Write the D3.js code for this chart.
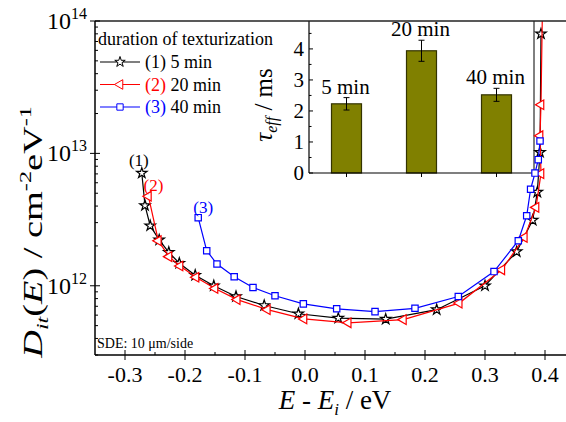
<!DOCTYPE html>
<html>
<head>
<meta charset="utf-8">
<script src="https://cdn.jsdelivr.net/npm/d3@7"></script>
<style>
  body { margin: 0; background: #fff; }
</style>
</head>
<body>
<svg id="chart" width="566" height="422" font-family="'Liberation Serif', 'DejaVu Serif', serif"></svg>
<script>
// --- data ---
// (1) 5 min
const energy5 = [-0.272, -0.2667, -0.258, -0.243, -0.227, -0.2095, -0.183, -0.152, -0.115, -0.068, -0.011, 0.0555, 0.1345, 0.2195, 0.300, 0.3528, 0.3795, 0.3872, 0.3917, 0.3933];
const dit5 = [7.1e12, 4.04e12, 2.84e12, 2.22e12, 1.79e12, 1.48e12, 1.20e12, 1.0e12, 8.3e11, 7.1e11, 6.15e11, 5.7e11, 5.6e11, 6.6e11, 1.0e12, 1.81e12, 3.13e12, 5.1e12, 1.02e13, 8.0e13];
// (2) 20 min
const energy20 = [-0.261, -0.2445, -0.2267, -0.2083, -0.1817, -0.15, -0.113, -0.0628, -0.0017, 0.072, 0.164, 0.257, 0.328, 0.3655, 0.385, 0.3933, 0.3917, 0.3933, 0.396];
const dit20 = [4.75e12, 2.19e12, 1.66e12, 1.41e12, 1.16e12, 9.55e11, 7.86e11, 6.6e11, 5.62e11, 5.25e11, 5.55e11, 7.4e11, 1.32e12, 2.32e12, 3.91e12, 7.03e12, 1.36e13, 2.33e13, 1.5e14];
// (3) 40 min
const energy40 = [-0.178, -0.1638, -0.1467, -0.118, -0.0867, -0.05, -0.0028, 0.0528, 0.1167, 0.1833, 0.2555, 0.315, 0.3555, 0.3695, 0.376, 0.3833, 0.3888, 0.3917];
const dit40 = [3.27e12, 1.84e12, 1.46e12, 1.17e12, 9.7e11, 8.4e11, 7.3e11, 6.7e11, 6.38e11, 6.76e11, 8.3e11, 1.28e12, 2.19e12, 3.38e12, 5.36e12, 7.1e12, 8.97e12, 1.24e13];

// inset: effective lifetime
const durations = ["5 min", "20 min", "40 min"];
const tauEff = [2.23, 3.94, 2.52];
const tauErr = [0.2, 0.34, 0.21];

const xTicks = [-0.3, -0.2, -0.1, 0.0, 0.1, 0.2, 0.3, 0.4];
const xTickLabels = ["-0.3", "-0.2", "-0.1", "0.0", "0.1", "0.2", "0.3", "0.4"];
const yTicks = [1e12, 1e13, 1e14];
const yTickExp = ["12", "13", "14"];
const insetTicks = [0, 1, 2, 3, 4];

const svg = d3.select("#chart");

const pLeft = 95, pTop = 21, pBottom = 355, pRight = 575;
const x = d3.scaleLinear().domain([-0.35, 0.45]).range([pLeft, pRight]);
const y = d3.scaleLog().domain([3e11, 1e14]).range([pBottom, pTop]);

svg.append("clipPath").attr("id", "plotclip")
  .append("rect").attr("x", pLeft).attr("y", pTop).attr("width", pRight - pLeft).attr("height", pBottom - pTop);

// --- inset ---
const inset = svg.append("g");
const ix = d3.scaleBand().domain(durations).range([309, 534]).paddingInner(0.6).paddingOuter(0.3);
const iy = d3.scaleLinear().domain([0, 4.9]).range([173, pTop]);

inset.append("rect").attr("x", 309).attr("y", pTop).attr("width", 225).attr("height", 173 - pTop)
  .attr("fill", "#fff");

inset.selectAll(".bar").data(durations).enter().append("rect")
  .attr("class", "bar")
  .attr("x", d => ix(d))
  .attr("y", (d, i) => iy(tauEff[i]))
  .attr("width", ix.bandwidth())
  .attr("height", (d, i) => iy(0) - iy(tauEff[i]))
  .style("fill", "#808000")
  .style("stroke", "#333300")
  .style("stroke-width", 1.2);

const err = inset.selectAll(".err").data(durations).enter().append("g").attr("class", "err")
  .attr("stroke", "#000").attr("stroke-width", 1);
err.append("line")
  .attr("x1", d => ix(d) + ix.bandwidth() / 2).attr("x2", d => ix(d) + ix.bandwidth() / 2)
  .attr("y1", (d, i) => iy(tauEff[i] - tauErr[i])).attr("y2", (d, i) => iy(tauEff[i] + tauErr[i]));
err.append("line")
  .attr("x1", d => ix(d) + ix.bandwidth() / 2 - 3).attr("x2", d => ix(d) + ix.bandwidth() / 2 + 3)
  .attr("y1", (d, i) => iy(tauEff[i] + tauErr[i])).attr("y2", (d, i) => iy(tauEff[i] + tauErr[i]));
err.append("line")
  .attr("x1", d => ix(d) + ix.bandwidth() / 2 - 3).attr("x2", d => ix(d) + ix.bandwidth() / 2 + 3)
  .attr("y1", (d, i) => iy(tauEff[i] - tauErr[i])).attr("y2", (d, i) => iy(tauEff[i] - tauErr[i]));

inset.selectAll(".blabel").data(durations).enter().append("text")
  .attr("class", "blabel")
  .attr("x", d => ix(d) + ix.bandwidth() / 2 - 1)
  .attr("y", (d, i) => iy(tauEff[i] + tauErr[i]) - 4)
  .attr("text-anchor", "middle")
  .style("font-size", "21px")
  .text(d => d);

// inset axes
inset.append("line").attr("x1", 309).attr("x2", 309).attr("y1", pTop).attr("y2", 173).attr("stroke", "#000").attr("stroke-width", 1.2);
inset.append("line").attr("x1", 309).attr("x2", 534).attr("y1", 173).attr("y2", 173).attr("stroke", "#000").attr("stroke-width", 1.2);
inset.append("line").attr("x1", 534).attr("x2", 534).attr("y1", pTop).attr("y2", 173).attr("stroke", "#000").attr("stroke-width", 1);
inset.selectAll(".itick").data(insetTicks).enter().append("line")
  .attr("x1", 309).attr("x2", 313).attr("y1", d => iy(d)).attr("y2", d => iy(d))
  .attr("stroke", "#000");
inset.selectAll(".iminor").data(insetTicks.map(d => d + 0.5)).enter().append("line")
  .attr("x1", 309).attr("x2", 311.5).attr("y1", d => iy(d)).attr("y2", d => iy(d))
  .attr("stroke", "#000");
inset.selectAll(".ixtick").data(durations).enter().append("line")
  .attr("x1", d => ix(d) + ix.bandwidth() / 2).attr("x2", d => ix(d) + ix.bandwidth() / 2)
  .attr("y1", 173).attr("y2", 177).attr("stroke", "#000");
inset.selectAll(".ilab").data(insetTicks).enter().append("text")
  .attr("x", 304).attr("y", d => iy(d) + 7)
  .attr("text-anchor", "end").style("font-size", "21px")
  .text(d => d);

const tl = inset.append("text")
  .attr("transform", "translate(272,105) rotate(-90)")
  .attr("text-anchor", "middle").style("font-size", "25px");
tl.append("tspan").style("font-style", "italic").text("τ");
tl.append("tspan").style("font-style", "italic").style("font-size", "16px").attr("dy", 5).text("eff");
tl.append("tspan").attr("dy", -5).text(" / ms");

// --- curves ---
const series = [
  { e: energy5, d: dit5, color: "#000", shape: "star" },
  { e: energy20, d: dit20, color: "#ff0000", shape: "tri" },
  { e: energy40, d: dit40, color: "#0000ff", shape: "square" }
];

const symbolFor = s => {
  if (s === "star") return d3.symbol(d3.symbolStar, 34)();
  if (s === "tri") return d3.symbol(d3.symbolTriangle, 40)();
  return d3.symbol(d3.symbolSquare, 40)();
};

const plot = svg.append("g").attr("clip-path", "url(#plotclip)");
const line = d3.line().x(d => x(d[0])).y(d => y(d[1]));

series.forEach(s => {
  const pts = s.e.map((e, i) => [e, s.d[i]]);
  plot.append("path").datum(pts)
    .attr("d", line)
    .attr("fill", "none")
    .attr("stroke", s.color)
    .attr("stroke-width", 1.2);
  plot.selectAll(null).data(pts).enter().append("path")
    .attr("d", symbolFor(s.shape))
    .attr("transform", d => `translate(${x(d[0])},${y(d[1])})` + (s.shape === "tri" ? " rotate(-90)" : ""))
    .attr("fill", "#fff")
    .attr("stroke", s.color)
    .attr("stroke-width", 1.2);
});

// curve labels
const curveLabels = [
  { t: "(1)", c: "#000", e: energy5[0], d: dit5[0], dx: -3, dy: -7 },
  { t: "(2)", c: "#ff0000", e: energy20[0], d: dit20[0], dx: 5, dy: -5 },
  { t: "(3)", c: "#0000ff", e: energy40[0], d: dit40[0], dx: 5, dy: -5 }
];
svg.selectAll(".clab").data(curveLabels).enter().append("text")
  .attr("x", d => x(d.e) + d.dx).attr("y", d => y(d.d) + d.dy)
  .attr("text-anchor", "middle")
  .style("font-size", "17px")
  .style("fill", d => d.c)
  .text(d => d.t);

// --- main axes ---
const ax = svg.append("g").attr("stroke", "#000");
ax.append("line").attr("x1", pLeft).attr("x2", 566).attr("y1", pBottom).attr("y2", pBottom).attr("stroke-width", 1.5);
ax.append("line").attr("x1", pLeft).attr("x2", 566).attr("y1", pTop).attr("y2", pTop).attr("stroke-width", 1.5).attr("stroke", "#222");
ax.append("line").attr("x1", pLeft).attr("x2", pLeft).attr("y1", pTop).attr("y2", pBottom).attr("stroke-width", 1.5);

ax.selectAll(".xt").data(xTicks).enter().append("line")
  .attr("x1", d => x(d)).attr("x2", d => x(d)).attr("y1", pBottom - 5).attr("y2", pBottom + 5);
ax.selectAll(".xm").data(xTicks.map(d => d + 0.05)).enter().append("line")
  .attr("x1", d => x(d)).attr("x2", d => x(d)).attr("y1", pBottom - 3).attr("y2", pBottom);
ax.selectAll(".yt").data(yTicks).enter().append("line")
  .attr("x1", pLeft - 5).attr("x2", pLeft + 5).attr("y1", d => y(d)).attr("y2", d => y(d));
const yMinor = [];
[1e11, 1e12, 1e13].forEach(p => { for (let k = 2; k <= 9; k++) if (p * k >= 3e11) yMinor.push(p * k); });
ax.selectAll(".ym").data(yMinor).enter().append("line")
  .attr("x1", pLeft).attr("x2", pLeft + 3).attr("y1", d => y(d)).attr("y2", d => y(d));

svg.selectAll(".xl").data(xTicks).enter().append("text")
  .attr("x", d => x(d)).attr("y", pBottom + 27)
  .attr("text-anchor", "middle").style("font-size", "22px")
  .text((d, i) => xTickLabels[i]);

const yl = svg.selectAll(".yl").data(yTicks).enter().append("text")
  .attr("x", 87).attr("y", d => y(d) + 8)
  .attr("text-anchor", "end").style("font-size", "24px");
yl.append("tspan").text("10");
yl.append("tspan").attr("dy", -10).style("font-size", "16px").text((d, i) => yTickExp[i]);

// axis titles
const xt = svg.append("text").attr("x", 335).attr("y", 409).attr("text-anchor", "middle").style("font-size", "27px");
xt.append("tspan").style("font-style", "italic").text("E");
xt.append("tspan").text(" - ");
xt.append("tspan").style("font-style", "italic").text("E");
xt.append("tspan").style("font-style", "italic").style("font-size", "17px").attr("dy", 6).text("i");
xt.append("tspan").attr("dy", -6).text(" / eV");

// the reference label is drawn long along its own direction
const yt = svg.append("text").attr("transform", "translate(42,232) rotate(-90) scale(1.42,1)").attr("text-anchor", "middle").style("font-size", "27px");
yt.append("tspan").style("font-style", "italic").text("D");
yt.append("tspan").style("font-style", "italic").style("font-size", "17px").attr("dy", 6).text("it");
yt.append("tspan").attr("dy", -6).text("(");
yt.append("tspan").style("font-style", "italic").text("E");
yt.append("tspan").text(") / cm");
yt.append("tspan").style("font-size", "17px").attr("dy", -11).text("-2");
yt.append("tspan").attr("dy", 11).text("eV");
yt.append("tspan").style("font-size", "17px").attr("dy", -11).text("-1");

// legend
const legendLabels = ["(1)", "(2)", "(3)"];
const legendNames = [" 5 min", " 20 min", " 40 min"];
svg.append("text").attr("x", 98).attr("y", 45).style("font-size", "18px").text("duration of texturization");
series.forEach((s, i) => {
  const ly = 62 + i * 22.5;
  svg.append("line").attr("x1", 100).attr("x2", 140).attr("y1", ly).attr("y2", ly)
    .attr("stroke", s.color).attr("stroke-width", 1.2);
  svg.append("path").attr("d", symbolFor(s.shape))
    .attr("transform", `translate(120,${ly})` + (s.shape === "tri" ? " rotate(-90)" : ""))
    .attr("fill", "#fff").attr("stroke", s.color);
  const t = svg.append("text").attr("x", 145).attr("y", ly + 6).style("font-size", "18px");
  t.append("tspan").style("fill", s.color).text(legendLabels[i]);
  t.append("tspan").text(legendNames[i]);
});

svg.append("text").attr("x", 97).attr("y", 348).style("font-size", "14px").text("SDE: 10 μm/side");
</script>
</body>
</html>
